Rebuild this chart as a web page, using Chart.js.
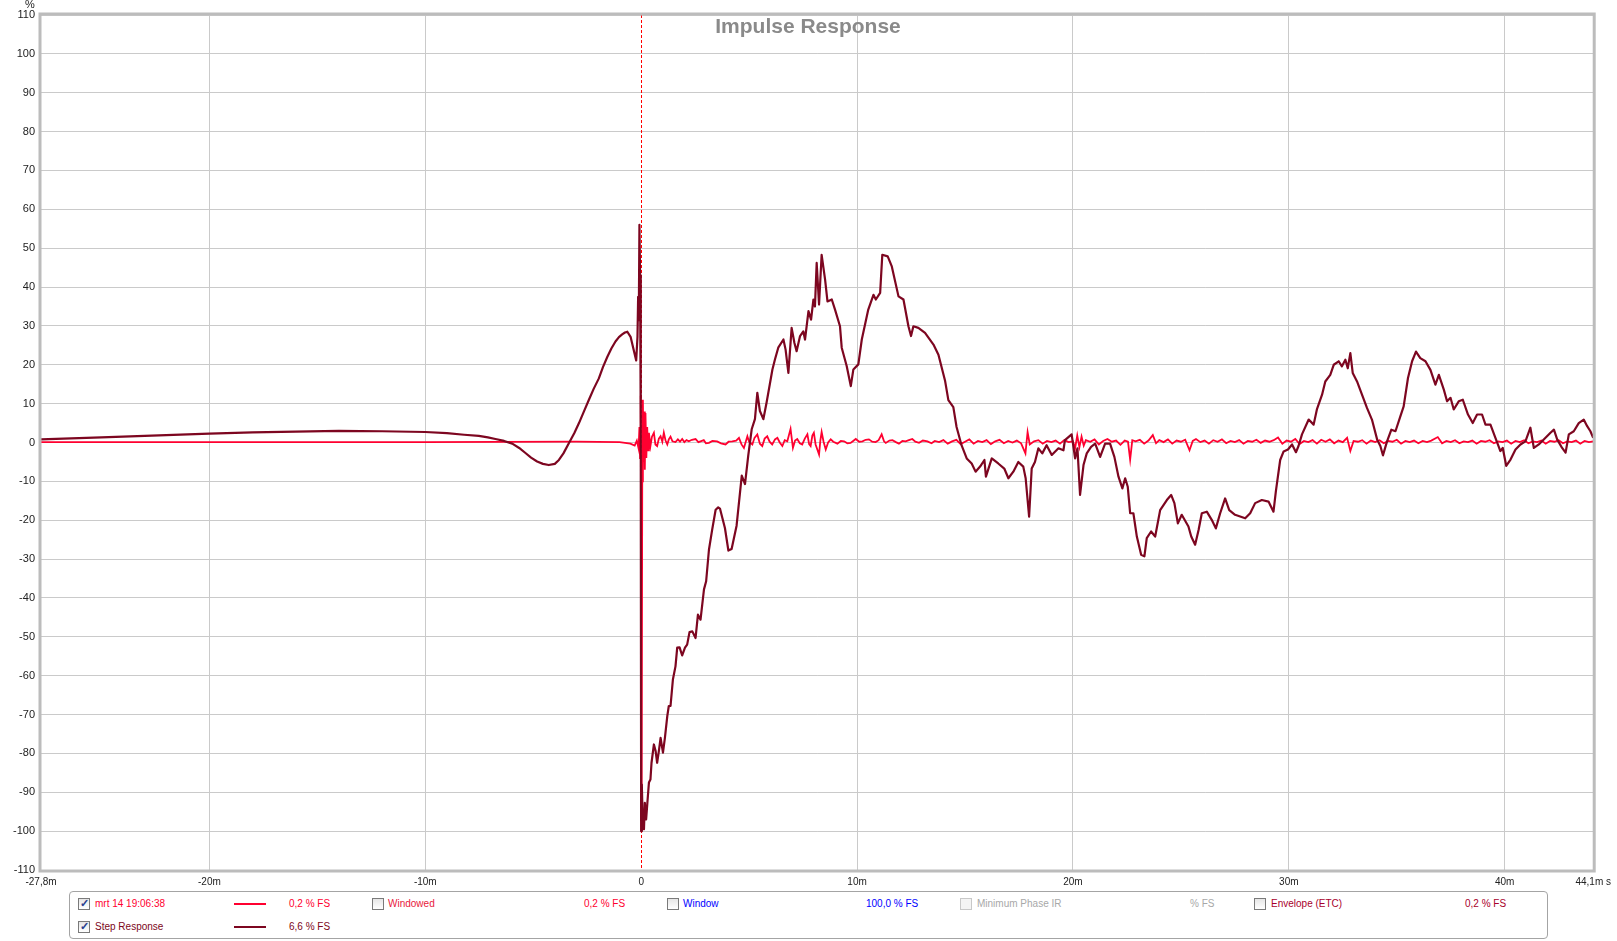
<!DOCTYPE html>
<html>
<head>
<meta charset="utf-8">
<title>Impulse Response</title>
<script src="https://cdn.jsdelivr.net/npm/chart.js@4.4.1/dist/chart.umd.min.js"></script>
<style>
    html, body { margin: 0; padding: 0; background: #fff; }
    body { width: 1617px; height: 941px; position: relative; overflow: hidden; font-family: "Liberation Sans", Arial, sans-serif; }
    #chart-container { position: absolute; left: 0; top: 0; width: 1617px; height: 941px; }
    #legend { position: absolute; left: 69px; top: 891px; width: 1477px; height: 46px; border: 1px solid #a4a4a4; border-radius: 4px; background: #fff; }
    #legend .item { position: absolute; font-size: 10px; line-height: 12px; white-space: nowrap; }
    #legend .cb { position: absolute; width: 10px; height: 10px; border: 1px solid #7a7a7a; background: linear-gradient(#e6e6e6, #ffffff); }
    #legend .cb.off { border-color: #c8c8c8; background: #f4f4f4; }
    #legend .cb.on::after { content: "\2713"; position: absolute; left: 1px; top: -2px; font-size: 11px; font-weight: bold; color: #2a3f8f; }
    #legend .swatch { position: absolute; width: 32px; height: 2px; }
</style>
</head>
<body>
<div id="chart-container"><canvas id="irChart"></canvas></div>
<div id="legend"></div>
<script>
// axis ticks
const xTickValues = [-27.8, -20, -10, 0, 10, 20, 30, 40, 44.1];
const xTickLabels = ['-27,8m', '-20m', '-10m', '0', '10m', '20m', '30m', '40m', '44,1m s'];

// step response (ms, %)
const stepTimes = [
    -27.8, -25, -22, -20, -18, -16, -14, -12, -10, -9, -8.2, -7.52, -7.1, -6.75, -6.35, -5.97, -5.65, -5.36,
    -5.1, -4.82, -4.55, -4.28, -4.0, -3.81, -3.6, -3.35, -3.1, -2.88, -2.65, -2.42, -2.2, -1.96, -1.77, -1.57,
    -1.38, -1.19, -1.03, -0.88, -0.75, -0.64, -0.49, -0.34, -0.23, -0.17, -0.14, -0.11, -0.08,
    -0.05, -0.02, 0.0, 0.03, 0.08, 0.13, 0.17, 0.23, 0.3, 0.36, 0.43, 0.48, 0.59, 0.67, 0.74, 0.82, 0.9,
    1.01, 1.1, 1.21, 1.28, 1.36, 1.47, 1.59, 1.67, 1.78, 1.9, 2.03, 2.13, 2.24, 2.37, 2.52, 2.63, 2.75, 2.91,
    3.01, 3.14, 3.29, 3.45, 3.57, 3.65, 3.88, 4.04, 4.19, 4.42, 4.66, 4.81, 4.96, 5.12, 5.27, 5.38, 5.5,
    5.66, 5.81, 6.08, 6.2, 6.35, 6.59, 6.69, 6.82, 6.97, 7.1, 7.2, 7.36, 7.51, 7.59, 7.75, 7.87, 7.98, 8.05,
    8.13, 8.24, 8.36, 8.52, 8.63, 8.83, 8.98, 9.21, 9.29, 9.52, 9.71, 9.83, 10.06, 10.22, 10.52, 10.76,
    10.87, 11.07, 11.17, 11.42, 11.61, 11.92, 12.15, 12.38, 12.5, 12.61, 12.84, 13.15, 13.54, 13.77, 14.08,
    14.23, 14.46, 14.61, 14.84, 15.08, 15.31, 15.49, 15.7, 15.9, 15.97, 16.24, 16.54, 16.82, 17.01, 17.24,
    17.47, 17.7, 17.81, 17.97, 18.09, 18.24, 18.4, 18.58, 18.78, 19.02, 19.33, 19.56, 19.63, 19.94, 20.1,
    20.21, 20.33, 20.49, 20.64, 20.84, 21.03, 21.26, 21.49, 21.72, 21.92, 22.11, 22.29, 22.42, 22.54, 22.65,
    22.8, 22.96, 23.16, 23.31, 23.42, 23.62, 23.81, 24.04, 24.35, 24.55, 24.7, 24.86, 25.04, 25.35, 25.48,
    25.66, 25.82, 25.97, 26.2, 26.43, 26.62, 26.82, 27.05, 27.24, 27.51, 27.98, 28.21, 28.44, 28.75, 29.06,
    29.29, 29.4, 29.6, 29.76, 29.96, 30.15, 30.33, 30.45, 30.61, 30.92, 31.15, 31.3, 31.54, 31.69, 31.92,
    32.08, 32.31, 32.46, 32.62, 32.73, 32.85, 32.96, 33.16, 33.39, 33.62, 33.85, 34.09, 34.24, 34.36, 34.55,
    34.75, 34.94, 35.17, 35.32, 35.52, 35.71, 35.89, 36.09, 36.33, 36.56, 36.79, 36.95, 37.18, 37.33, 37.49,
    37.64, 37.87, 38.06, 38.3, 38.52, 38.72, 38.95, 39.11, 39.34, 39.57, 39.8, 39.91, 40.07, 40.27, 40.5,
    40.73, 40.96, 41.19, 41.35, 41.58, 41.89, 42.12, 42.28, 42.43, 42.66, 42.82, 42.97, 43.2, 43.43, 43.66,
    43.82, 43.97, 44.1
];
const stepValues = [
    0.8, 1.3, 1.9, 2.3, 2.6, 2.8, 3.0, 2.9, 2.7, 2.4, 2.0, 1.7, 1.3, 0.9, 0.4, -0.3, -1.4, -2.7,
    -3.9, -4.9, -5.5, -5.8, -5.5, -4.5, -2.8, -0.2, 2.4, 5, 8, 11, 13.8, 16.5, 19.4, 22,
    24.2, 26, 27.1, 27.8, 28.3, 28.5, 27.2, 23.7, 21.1, 27.2, 37.5, 31.5, 56,
    43, 5, -100, -88, -99, -99.5, -92.7, -97, -91.8, -87.5, -86.7, -82.4, -77.7, -79.4, -82.4, -79.4, -76,
    -79.8, -76, -70.4, -67.8, -67.8, -61, -57.6, -52.8, -52.7, -54.8, -52.8, -52, -48.8, -48.6, -50.3, -44.3, -45.6, -37.8,
    -35.7, -27.6, -22.4, -17.3, -16.7, -17, -22, -27.8, -27.4, -21.4, -8.5, -10.7, -3.4, 3.4, 6, 12.8, 8.1,
    6, 10.3, 18.8, 21.4, 24.4, 26.5, 23.9, 17.9, 29.5, 25.6, 23.5, 27.4, 28.6, 26.5, 33.8, 31.6, 36.8, 35,
    46.2, 35.5, 48.3, 41.9, 36.3, 36.8, 34.2, 29.9, 24.4, 19.7, 14.5, 18.8, 20.1, 26.5, 34.2, 38,
    36.8, 38.5, 48.3, 47.9, 45.3, 37.6, 36.8, 29.9, 27.4, 29.9, 29.5, 28.2, 25.2, 22.6, 15.8,
    10.9, 9.1, 4, -0.7, -4.1, -5.4, -7.5, -6.2, -4.5, -8.8, -4.1, -5.4, -6.7, -9.2, -7.5,
    -5, -6.2, -9.2, -19.1, -6.7, -5, -1.5, -2.8, -0.7, -3.2, -1.5, -2, 0.6, 2.1, -4.1,
    -1.5, -13.5, -5.8, -2.8, -1.1, -0.3, -3.7, -0.3, -0.3, -3.7, -8.8, -11.8, -9.2, -11.4, -18.2,
    -18.2, -24.2, -28.9, -29.3, -24.6, -22.9, -24.2, -17.4, -14.8, -13.5, -15.6, -20.8, -18.6, -21.6, -24.2,
    -26.3, -22.5, -18.2, -17.8, -19.9, -22.1, -18.2, -14.4, -17.4, -18.6, -19.5, -18.2, -15.6, -14.8, -15.2,
    -17.8, -12.6, -4.5, -2.3, -1.8, -0.5, -2.5, -0.9, 2.1, 5.9, 4.6, 8.5, 12.3, 15.7, 17.4,
    20, 20.9, 19.6, 21.3, 19.1, 23, 17.9, 15.7, 12.3, 8.9, 5.9, 0.8, -0.9, -3.3, 0.3,
    3.3, 2.9, 6.8, 9.3, 16.6, 20.9, 23.4, 21.7, 20.9, 18.7, 14.9, 17.4, 13.6, 10.6, 11.5,
    8.5, 10.6, 11, 7.2, 5, 7.2, 7.2, 4.6, 4.6, 1.2, -2.2, -1.4, -6, -4.4, -1.8,
    -0.5, 0.3, 3.8, -1.4, -0.5, 1.2, 2.5, 3.3, 0.8, -1.4, -2.6, 2.1, 2.9, 5, 5.9,
    4.2, 2.9, 1.2
];

// impulse response "mrt 14 19:06:38" (ms, %)
const impulseTimes = [
    -27.8, -20, -10, -3, -1, -0.5, -0.3, -0.2, -0.12, -0.08, -0.05, -0.02, 0.0, 0.02, 0.05, 0.08, 0.11,
    0.14, 0.17, 0.2, 0.24, 0.28, 0.32, 0.36, 0.43, 0.5, 0.59, 0.66, 0.74, 0.82, 0.9, 0.98, 1.05, 1.13, 1.21,
    1.28, 1.36, 1.45, 1.59, 1.7, 1.8, 1.9, 2.0, 2.1, 2.21, 2.35, 2.52, 2.65, 2.75, 2.9, 3.0, 3.14, 3.3, 3.52,
    3.7, 3.91, 4.05, 4.22, 4.4, 4.53, 4.65, 4.76, 4.92, 5.0, 5.15, 5.25, 5.38, 5.5, 5.61, 5.72, 5.84, 5.95,
    6.07, 6.2, 6.31, 6.42, 6.54, 6.65, 6.77, 6.92, 7.03, 7.13, 7.23, 7.35, 7.46, 7.58, 7.7, 7.78, 7.85, 7.93,
    8.0, 8.08, 8.16, 8.24, 8.3, 8.36, 8.45, 8.55, 8.66, 8.78, 8.9, 9.09, 9.25, 9.4, 9.55, 9.7, 9.82, 9.94,
    10.1, 10.25, 10.4, 10.55, 10.7, 10.86, 11.0, 11.14, 11.25, 11.33, 11.5, 11.64, 11.8, 11.94, 12.1, 12.25,
    12.4, 12.56, 12.7, 12.87, 13.05, 13.26, 13.45, 13.6, 13.8, 14.0, 14.2, 14.4, 14.6, 14.8, 15.0, 15.2,
    15.4, 15.6, 15.8, 16.0, 16.2, 16.4, 16.6, 16.8, 17.0, 17.2, 17.4, 17.6, 17.8, 17.9, 18.0, 18.2, 18.4,
    18.6, 18.8, 19.0, 19.2, 19.4, 19.6, 19.8, 20.0, 20.1, 20.2, 20.3, 20.4, 20.5, 20.6, 20.8, 21.0, 21.2,
    21.4, 21.6, 21.8, 22.0, 22.2, 22.4, 22.55, 22.65, 22.75, 22.9, 23.1, 23.3, 23.5, 23.7, 23.85, 24.0, 24.2,
    24.4, 24.6, 24.8, 25.0, 25.2, 25.4, 25.55, 25.7, 25.9, 26.1, 26.3, 26.5, 26.7, 26.9, 27.1, 27.3, 27.5,
    27.7, 27.9, 28.1, 28.3, 28.5, 28.7, 28.9, 29.1, 29.3, 29.5, 29.7, 29.9, 30.1, 30.3, 30.5, 30.7, 30.9,
    31.1, 31.3, 31.5, 31.7, 31.9, 32.1, 32.3, 32.5, 32.7, 32.85, 33.0, 33.2, 33.4, 33.6, 33.8, 34.0, 34.2,
    34.4, 34.6, 34.8, 35.0, 35.2, 35.4, 35.6, 35.8, 36.0, 36.2, 36.4, 36.6, 36.9, 37.1, 37.3, 37.5, 37.7,
    37.9, 38.1, 38.3, 38.5, 38.7, 38.9, 39.1, 39.3, 39.5, 39.7, 39.9, 40.1, 40.3, 40.5, 40.7, 40.9, 41.1,
    41.3, 41.5, 41.7, 41.9, 42.1, 42.3, 42.5, 42.7, 42.9, 43.1, 43.3, 43.5, 43.7, 43.9, 44.1
];
const impulseValues = [
    0.1, 0.1, 0.1, 0.2, 0.1, -0.3, -0.8, 0.5, -1.5, 4, -4, 12, -20, -100, -10, 11, -5,
    8, -7, 7.6, -4, 4, -2, 2.5, -0.9, 1.5, 2.5, -0.5, -0.9, 1, 1.6, 0.2, 2.5, 0.5, -0.5,
    0.8, 1.5, 0.3, 0.1, 0.8, 0.2, 0.9, 0.1, 0.6, 0.3, 0.7, 0.9, 0.1, 0.3, 0.6, -0.2, -0.1, 0.4, 0.3,
    -0.2, -0.5, 0.2, 0.3, 0.5, 1.2, -0.5, -1.4, 1.6, 0.2, -0.5, 1.2, 2.1, -0.3, -0.9, 1, 1.6, 0.2,
    -0.5, 0.8, 1.2, 0, -0.9, 0.6, 0.3, 3.5, -1.4, 0.5, 0.9, -0.2, -0.5, 1, 2.1, -0.4, -0.9, 1.8,
    2.5, -0.5, -1.8, -3.1, 0.5, 2.7, 0.2, -1.8, 0, 0.8, 0.2, -0.3, 0.4, 0.3, -0.2, -0.1, 0.4, 0.9,
    0.2, 0.3, 0.7, 0.8, 0.2, 0.1, 0.6, 2.1, 0.3, -0.1, 0.5, 0.6, 0.1, -0.3, 0.4, 0.3,
    0.6, 0.9, 0.2, -0.1, 0.5, 0.3, -0.2, 0.4, 0.1, 0.6, -0.3, 0.3, 0.7, -0.4, 0.2, 0.8,
    -0.3, 0.4, 0.1, 0.6, -0.4, 0.3, 0.7, -0.2, 0.4, 0, 0.5, -0.2, -2.8, 2.7, -0.5, 0.3, 0.6,
    -0.3, 0.4, 0.1, 0.5, -0.3, 0.6, 0.1, 0.3, -1.5, 1.8, -1.2, 1.5, -0.8, 0.6, 0.2, 0.8, -0.5,
    0.4, 0.9, 0.2, 0.5, -0.6, 0.5, 0.2, -4.4, 0.6, 0.3, 0.7, -0.3, 0.5, 1.9, -0.2, 0.6, 0.1,
    0.8, -0.3, 0.5, 0.2, 0.7, -2, 0.4, 0.9, 0.1, 0.5, -0.3, 0.6, 0.2, 0.8, -0.2, 0.4, 0.1,
    0.6, -0.3, 0.4, 0.2, 0.7, -0.1, 0.5, 0.2, 0.6, 1.3, -0.3, 0.5, 0.2, 0.9, -0.4, 0.4, 0.1,
    0.6, -0.3, 0.7, 0.2, 0.8, -0.2, 0.5, 0.1, 1.2, -2.2, 0.4, 0.2, 0.6, -0.3, 0.5, 0.1, 0.6,
    -0.2, 0.4, 0.2, 0.7, -0.3, 0.4, 0.1, 0.5, -0.2, 0.4, 0.1, 0.5, 1.4, -0.2, 0.4, 0.1, 0.6,
    -0.2, 0.3, 0.1, 0.5, -0.3, 0.4, 0.2, 0.6, -0.2, 0.3, 0.1, 0.5, -0.3, 0.4, 0.1, 0.6, -0.2,
    0.3, 0.1, 0.5, -0.3, 0.4, 0.2, 0.6, -0.2, 0.3, 0.1, 0.5, -0.3, 0.4, 0.1, 0.3
];

const impulseColor = '#ff0030';
const stepColor = '#7d0620';

document.addEventListener('DOMContentLoaded', () => {
    const toPoints = (xs, ys) => xs.map((x, i) => ({ x: x, y: ys[i] }));

    // frame, dashed zero marker, title and unit label
    const decorations = {
        id: 'decorations',
        beforeDatasetsDraw(chart) {
            const { ctx, chartArea } = chart;
            const x0 = chart.scales.x.getPixelForValue(0);
            ctx.save();
            ctx.strokeStyle = '#ff0000';
            ctx.lineWidth = 1;
            ctx.setLineDash([3, 2]);
            ctx.beginPath();
            ctx.moveTo(Math.round(x0) + 0.5, chartArea.top);
            ctx.lineTo(Math.round(x0) + 0.5, chartArea.bottom);
            ctx.stroke();
            ctx.restore();
        },
        afterDraw(chart) {
            const { ctx, chartArea } = chart;
            ctx.save();
            ctx.strokeStyle = '#bcbcbc';
            ctx.lineWidth = 3;
            ctx.strokeRect(chartArea.left - 1, chartArea.top - 1, chartArea.right - chartArea.left + 2, chartArea.bottom - chartArea.top + 2);

            ctx.fillStyle = '#8a8a8a';
            ctx.font = 'bold 21px "Liberation Sans", Arial, sans-serif';
            ctx.textAlign = 'center';
            ctx.textBaseline = 'middle';
            ctx.fillText('Impulse Response', 808, 27);

            ctx.fillStyle = '#222';
            ctx.font = '11px "Liberation Sans", Arial, sans-serif';
            ctx.fillText('%', 30, 5);
            ctx.restore();
        }
    };

    new Chart(document.getElementById('irChart').getContext('2d'), {
        type: 'line',
        data: {
            datasets: [
                {
                    label: 'mrt 14 19:06:38',
                    data: toPoints(impulseTimes, impulseValues),
                    borderColor: impulseColor,
                    borderWidth: 1.8,
                    pointRadius: 0,
                    tension: 0,
                    order: 1
                },
                {
                    label: 'Step Response',
                    data: toPoints(stepTimes, stepValues),
                    borderColor: stepColor,
                    borderWidth: 2.2,
                    borderJoinStyle: 'round',
                    pointRadius: 0,
                    tension: 0,
                    order: 0
                }
            ]
        },
        options: {
            responsive: true,
            maintainAspectRatio: false,
            animation: false,
            layout: {
                padding: { top: 15, right: 21, bottom: 51, left: 0 }
            },
            plugins: {
                legend: { display: false },
                title: { display: false },
                tooltip: { enabled: false }
            },
            scales: {
                x: {
                    type: 'linear',
                    min: -27.8,
                    max: 44.1,
                    afterBuildTicks: axis => {
                        axis.ticks = xTickValues.map(v => ({ value: v }));
                    },
                    afterFit: scale => { scale.height = 20; },
                    grid: {
                        drawTicks: false,
                        color: ctx => {
                            const v = ctx.tick ? ctx.tick.value : null;
                            return (v === 0 || v === -27.8 || v === 44.1) ? 'rgba(0,0,0,0)' : '#cacaca';
                        }
                    },
                    border: { display: false },
                    ticks: {
                        autoSkip: false,
                        maxRotation: 0,
                        padding: 6,
                        color: '#222',
                        font: { family: '"Liberation Sans", Arial, sans-serif', size: 10 },
                        callback: (value, index) => xTickLabels[index]
                    }
                },
                y: {
                    min: -110,
                    max: 110,
                    afterFit: scale => { scale.width = 41; },
                    grid: {
                        drawTicks: false,
                        color: '#cacaca'
                    },
                    border: { display: false },
                    ticks: {
                        stepSize: 10,
                        padding: 6,
                        color: '#222',
                        font: { family: '"Liberation Sans", Arial, sans-serif', size: 11 },
                        callback: value => String(value)
                    }
                }
            }
        },
        plugins: [decorations]
    });

    // legend panel below the plot
    const legendItems = [
        { cb: 'on', cbX: 8, row: 0 },
        { text: 'mrt 14 19:06:38', x: 25, row: 0, color: impulseColor },
        { swatch: impulseColor, x: 164, row: 0 },
        { text: '0,2 % FS', x: 219, row: 0, color: impulseColor },
        { cb: 'plain', cbX: 302, row: 0 },
        { text: 'Windowed', x: 318, row: 0, color: '#e8183c' },
        { text: '0,2 % FS', x: 514, row: 0, color: impulseColor },
        { cb: 'plain', cbX: 597, row: 0 },
        { text: 'Window', x: 613, row: 0, color: '#0000ff' },
        { text: '100,0 % FS', x: 796, row: 0, color: '#0000ff' },
        { cb: 'off', cbX: 890, row: 0 },
        { text: 'Minimum Phase IR', x: 907, row: 0, color: '#a8a8a8' },
        { text: '% FS', x: 1120, row: 0, color: '#a8a8a8' },
        { cb: 'plain', cbX: 1184, row: 0 },
        { text: 'Envelope (ETC)', x: 1201, row: 0, color: '#a8002c' },
        { text: '0,2 % FS', x: 1395, row: 0, color: '#a8002c' },
        { cb: 'on', cbX: 8, row: 1 },
        { text: 'Step Response', x: 25, row: 1, color: stepColor },
        { swatch: stepColor, x: 164, row: 1 },
        { text: '6,6 % FS', x: 219, row: 1, color: stepColor }
    ];
    const rowCenters = [12, 35];
    const legend = document.getElementById('legend');
    legendItems.forEach(item => {
        const el = document.createElement('span');
        const cy = rowCenters[item.row];
        if (item.cb) {
            el.className = 'cb ' + (item.cb === 'on' ? 'on' : item.cb === 'off' ? 'off' : '');
            el.style.left = item.cbX + 'px';
            el.style.top = (cy - 6) + 'px';
        } else if (item.swatch) {
            el.className = 'swatch';
            el.style.background = item.swatch;
            el.style.left = item.x + 'px';
            el.style.top = (cy - 1) + 'px';
        } else {
            el.className = 'item';
            el.textContent = item.text;
            el.style.color = item.color;
            el.style.left = item.x + 'px';
            el.style.top = (cy - 6) + 'px';
        }
        legend.appendChild(el);
    });
});
</script>
</body>
</html>
